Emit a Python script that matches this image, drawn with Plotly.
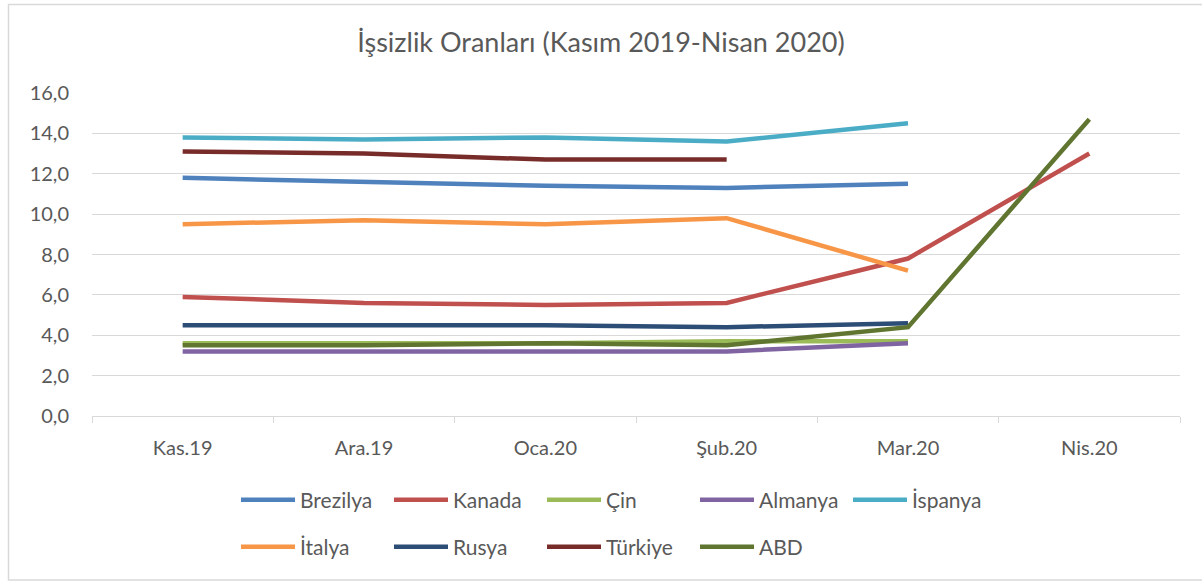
import plotly.graph_objects as go

categories = ["Kas.19", "Ara.19", "Oca.20", "Şub.20", "Mar.20", "Nis.20"]

brezilya = [11.8, 11.6, 11.4, 11.3, 11.5, None]
kanada = [5.9, 5.6, 5.5, 5.6, 7.8, 13.0]
cin = [3.6, 3.6, 3.6, 3.7, 3.7, None]
almanya = [3.2, 3.2, 3.2, 3.2, 3.6, None]
ispanya = [13.8, 13.7, 13.8, 13.6, 14.5, None]
italya = [9.5, 9.7, 9.5, 9.8, 7.2, None]
rusya = [4.5, 4.5, 4.5, 4.4, 4.6, None]
turkiye = [13.1, 13.0, 12.7, 12.7, None, None]
abd = [3.5, 3.5, 3.6, 3.5, 4.4, 14.7]

series = [
    ("Brezilya", brezilya, "#4F81BD", "legend"),
    ("Kanada", kanada, "#C0504D", "legend"),
    ("Çin", cin, "#9BBB59", "legend"),
    ("Almanya", almanya, "#8064A2", "legend"),
    ("İspanya", ispanya, "#4BACC6", "legend"),
    ("İtalya", italya, "#F79646", "legend2"),
    ("Rusya", rusya, "#2C4D75", "legend2"),
    ("Türkiye", turkiye, "#772C2A", "legend2"),
    ("ABD", abd, "#5F7530", "legend2"),
]

FONT = "Lato, Open Sans, sans-serif"
GRAY = "#595959"

fig = go.Figure()
for name, vals, color, leg in series:
    fig.add_trace(go.Scatter(
        x=categories, y=vals, name=name, mode="lines",
        line=dict(color=color, width=4.5), legend=leg,
        connectgaps=False,
    ))

L, R, T, B = 92, 22, 93, 165
W, H = 1202, 581
pw = W - L - R
ph = H - T - B

def px_x(p):
    return (p - L) / pw

def px_y(p):
    return (H - B - p) / ph

legend_common = dict(
    orientation="h", xanchor="left", yanchor="middle",
    font=dict(family=FONT, size=21, color=GRAY),
    entrywidth=84, entrywidthmode="pixels",
    bgcolor="rgba(0,0,0,0)", itemwidth=54,
)

fig.update_layout(
    width=W, height=H,
    margin=dict(l=L, r=R, t=T, b=B),
    paper_bgcolor="white", plot_bgcolor="white",
    separators=",.",
    font=dict(family=FONT, color=GRAY),
    title=dict(
        text="İşsizlik Oranları (Kasım 2019-Nisan 2020)",
        x=0.5, xref="container", y=1 - 43 / H, yref="container",
        xanchor="center", yanchor="middle",
        font=dict(family=FONT, size=27, color=GRAY),
    ),
    xaxis=dict(
        type="category", showgrid=False, showline=True,
        linecolor="#D9D9D9", linewidth=1,
        ticks="outside", tickson="boundaries", ticklen=6,
        tickcolor="#D9D9D9", tickwidth=1,
        tickfont=dict(family=FONT, size=20, color=GRAY),
        ticklabelstandoff=14,
        range=[-0.5, 5.5],
    ),
    yaxis=dict(
        range=[0, 16], dtick=2, tickformat=".1f",
        showgrid=True, gridcolor="#D9D9D9", gridwidth=1,
        zeroline=False, showline=False,
        tickfont=dict(family=FONT, size=20, color=GRAY),
        ticklabelstandoff=22,
    ),
    legend=dict(x=px_x(236), y=px_y(500), **legend_common),
    legend2=dict(x=px_x(236), y=px_y(547), **legend_common),
    shapes=[dict(
        type="rect", xref="paper", yref="paper", layer="below",
        x0=px_x(8.5), x1=px_x(1210), y0=px_y(580), y1=px_y(4.5),
        line=dict(color="#D9D9D9", width=1.5), fillcolor="rgba(0,0,0,0)",
    )],
)

fig.write_html(
    "out.html",
    config={"displayModeBar": False},
    post_script="document.body.style.margin='0';document.body.style.overflow='hidden';",
)
